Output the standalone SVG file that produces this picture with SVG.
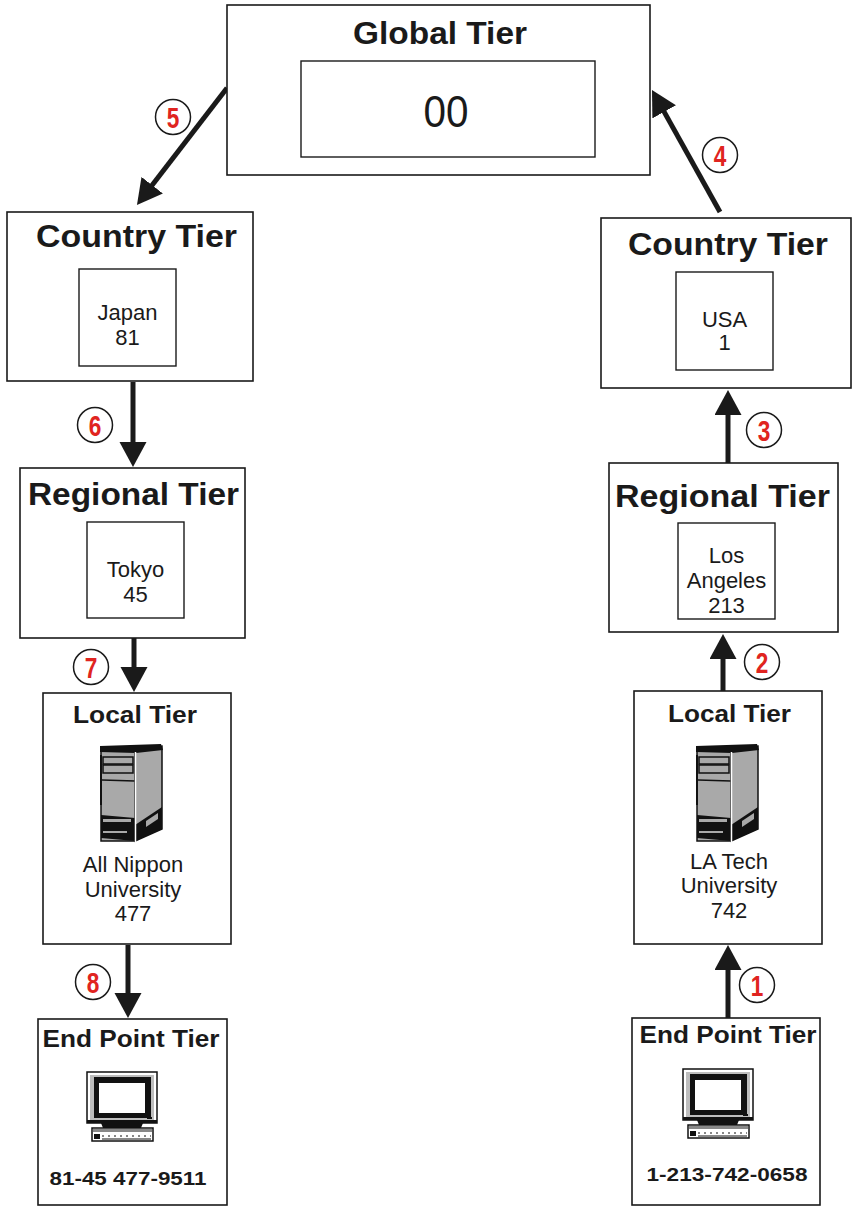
<svg xmlns="http://www.w3.org/2000/svg" width="852" height="1207" viewBox="0 0 852 1207">
  <style>
    .box { fill: #ffffff; stroke: #1a1a1a; stroke-width: 1.6; }
    .inner { fill: #ffffff; stroke: #1a1a1a; stroke-width: 1.4; }
    .title { font-family: "Liberation Sans", Arial, sans-serif; font-weight: bold; fill: #1a1a1a; text-anchor: middle; }
    .big { font-size: 31px; }
    .mid { font-size: 23px; }
    .body { font-family: "Liberation Sans", Arial, sans-serif; font-size: 22px; fill: #1a1a1a; text-anchor: middle; }
    .code { font-family: "Liberation Sans", Arial, sans-serif; font-size: 44px; fill: #1a1a1a; text-anchor: middle; }
    .phone { font-family: "Liberation Sans", Arial, sans-serif; font-weight: bold; font-size: 19px; fill: #1a1a1a; text-anchor: middle; }
    .conn { stroke: #1a1a1a; stroke-width: 5; fill: none; marker-end: url(#head); }
    .step circle { fill: #ffffff; stroke: #1a1a1a; stroke-width: 1.5; }
    .step text { font-family: "Liberation Sans", Arial, sans-serif; font-weight: bold; font-size: 29px; fill: #e02420; text-anchor: middle; }
  </style>
  <defs>
    <marker id="head" markerUnits="userSpaceOnUse" markerWidth="26" markerHeight="28" refX="10" refY="13.5" orient="auto">
      <path d="M0,0 L25,13.5 L0,27 Z" fill="#1a1a1a"/>
    </marker>
    <!-- tower server -->
    <g id="server">
      <polygon points="35,5 62,1 62,84 35,96" fill="#a9a9a9" stroke="#111" stroke-width="1.5"/>
      <rect x="1" y="4" width="34" height="92" fill="#a9a9a9" stroke="#111" stroke-width="1.5"/>
      <polygon points="0,1 61,-1 63,5 36,8 0,7" fill="#111"/>
      <rect x="3" y="12" width="30" height="7" fill="#a9a9a9" stroke="#111" stroke-width="1.5"/>
      <rect x="3" y="20" width="30" height="8" fill="#a9a9a9" stroke="#111" stroke-width="1.5"/>
      <line x1="2" y1="35" x2="35" y2="36" stroke="#111" stroke-width="1.5"/>
      <polygon points="1,70 35,73 35,96 1,93" fill="#111"/>
      <polygon points="35,80 62,62 62,84 35,96" fill="#111"/>
      <polygon points="46,76 58,68 58,74 46,82" fill="#a9a9a9"/>
      <rect x="3" y="74" width="28" height="3" fill="#a9a9a9"/>
      <rect x="3" y="86" width="24" height="2" fill="#a9a9a9"/>
      <line x1="35.5" y1="7" x2="35.5" y2="97" stroke="#ffffff" stroke-width="1.5"/>
      <line x1="1" y1="10" x2="1" y2="60" stroke="#111" stroke-width="2"/>
    </g>
    <!-- desktop computer -->
    <g id="pc">
      <rect x="0" y="0" width="70" height="51" fill="#ffffff" stroke="#111" stroke-width="1.5"/>
      <rect x="3" y="3" width="64" height="45" fill="#bdbdbd"/>
      <rect x="7" y="5" width="57" height="41" fill="#111"/>
      <rect x="12" y="11" width="46" height="30" fill="#ffffff"/>
      <rect x="60" y="45" width="5" height="2" fill="#111"/>
      <rect x="0" y="48" width="70" height="3" fill="#111"/>
      <polygon points="14,51 56,51 54,56 16,56" fill="#111"/>
      <rect x="5" y="56" width="61" height="13" fill="#ffffff" stroke="#111" stroke-width="1.5"/>
      <rect x="6" y="57" width="59" height="3" fill="#888"/>
      <rect x="7" y="62" width="6" height="5" fill="#111"/>
      <line x1="15" y1="64" x2="64" y2="64" stroke="#111" stroke-width="1.2" stroke-dasharray="2,4"/>
      <line x1="15" y1="67" x2="64" y2="67" stroke="#111" stroke-width="1"/>
    </g>
  </defs>

  <rect width="852" height="1207" fill="#ffffff"/>

  <!-- connectors -->
  <g id="connectors">
    <line class="conn" x1="728" y1="1018" x2="728" y2="960"/>
    <line class="conn" x1="723" y1="691" x2="723" y2="649"/>
    <line class="conn" x1="728" y1="463" x2="728" y2="405"/>
    <line class="conn" x1="720" y1="212" x2="659.3" y2="103.1"/>
    <line class="conn" x1="227" y1="88" x2="146.1" y2="193.1"/>
    <line class="conn" x1="133" y1="382" x2="133" y2="452"/>
    <line class="conn" x1="134" y1="638" x2="134" y2="677"/>
    <line class="conn" x1="128" y1="945" x2="128" y2="1003"/>
  </g>

  <!-- step markers -->
  <g id="steps">
    <g class="step"><circle cx="757" cy="985" r="17.5"/><text transform="translate(757,995.5) scale(0.78,1)">1</text></g>
    <g class="step"><circle cx="762" cy="662" r="17.5"/><text transform="translate(762,672.5) scale(0.78,1)">2</text></g>
    <g class="step"><circle cx="764" cy="430" r="17.5"/><text transform="translate(764,440.5) scale(0.78,1)">3</text></g>
    <g class="step"><circle cx="720" cy="155" r="17.5"/><text transform="translate(720,165.5) scale(0.78,1)">4</text></g>
    <g class="step"><circle cx="173" cy="117" r="17.5"/><text transform="translate(173,127.5) scale(0.78,1)">5</text></g>
    <g class="step"><circle cx="95" cy="425" r="17.5"/><text transform="translate(95,435.5) scale(0.78,1)">6</text></g>
    <g class="step"><circle cx="91" cy="667" r="17.5"/><text transform="translate(91,677.5) scale(0.78,1)">7</text></g>
    <g class="step"><circle cx="93" cy="982" r="17.5"/><text transform="translate(93,992.5) scale(0.78,1)">8</text></g>
  </g>

  <!-- global tier -->
  <g id="global-tier">
    <rect class="box" x="227" y="5" width="423" height="170"/>
    <text class="title big" x="440" y="44" textLength="174" lengthAdjust="spacingAndGlyphs">Global Tier</text>
    <rect class="inner" x="301" y="61" width="294" height="96"/>
    <text class="code" x="446" y="127" textLength="45" lengthAdjust="spacingAndGlyphs">00</text>
  </g>

  <!-- Japan side -->
  <g id="country-japan">
    <rect class="box" x="7" y="212" width="246" height="169"/>
    <text class="title big" x="136.5" y="247" textLength="201" lengthAdjust="spacingAndGlyphs">Country Tier</text>
    <rect class="inner" x="79" y="269" width="97" height="97"/>
    <text class="body" x="127.5" y="320">Japan</text>
    <text class="body" x="127.5" y="345">81</text>
  </g>
  <g id="regional-tokyo">
    <rect class="box" x="20" y="468" width="225" height="170"/>
    <text class="title big" x="133.5" y="505" textLength="211" lengthAdjust="spacingAndGlyphs">Regional Tier</text>
    <rect class="inner" x="87" y="522" width="97" height="96"/>
    <text class="body" x="135.5" y="577">Tokyo</text>
    <text class="body" x="135.5" y="602">45</text>
  </g>
  <g id="local-nippon">
    <rect class="box" x="43" y="693" width="188" height="251"/>
    <text class="title mid" x="135" y="723" textLength="124" lengthAdjust="spacingAndGlyphs">Local Tier</text>
    <use href="#server" x="100" y="745"/>
    <text class="body" x="133" y="872">All Nippon</text>
    <text class="body" x="133" y="897">University</text>
    <text class="body" x="133" y="921">477</text>
  </g>
  <g id="endpoint-japan">
    <rect class="box" x="38" y="1019" width="189" height="186"/>
    <text class="title mid" x="131" y="1047" textLength="177" lengthAdjust="spacingAndGlyphs">End Point Tier</text>
    <use href="#pc" x="87" y="1072"/>
    <text class="phone" x="128" y="1185" textLength="157" lengthAdjust="spacingAndGlyphs">81-45 477-9511</text>
  </g>

  <!-- USA side -->
  <g id="country-usa">
    <rect class="box" x="601" y="218" width="250" height="170"/>
    <text class="title big" x="728" y="255" textLength="200" lengthAdjust="spacingAndGlyphs">Country Tier</text>
    <rect class="inner" x="676" y="272" width="97" height="98"/>
    <text class="body" x="724.5" y="327">USA</text>
    <text class="body" x="724.5" y="350">1</text>
  </g>
  <g id="regional-la">
    <rect class="box" x="609" y="463" width="229" height="169"/>
    <text class="title big" x="722.5" y="507" textLength="215" lengthAdjust="spacingAndGlyphs">Regional Tier</text>
    <rect class="inner" x="678" y="523" width="97" height="96"/>
    <text class="body" x="726.5" y="563">Los</text>
    <text class="body" x="726.5" y="588">Angeles</text>
    <text class="body" x="726.5" y="613">213</text>
  </g>
  <g id="local-latech">
    <rect class="box" x="634" y="691" width="188" height="253"/>
    <text class="title mid" x="729.5" y="722" textLength="123" lengthAdjust="spacingAndGlyphs">Local Tier</text>
    <use href="#server" x="696" y="745"/>
    <text class="body" x="729" y="869">LA Tech</text>
    <text class="body" x="729" y="893">University</text>
    <text class="body" x="729" y="918">742</text>
  </g>
  <g id="endpoint-usa">
    <rect class="box" x="632" y="1018" width="188" height="187"/>
    <text class="title mid" x="728" y="1043" textLength="177" lengthAdjust="spacingAndGlyphs">End Point Tier</text>
    <use href="#pc" x="683" y="1069"/>
    <text class="phone" x="727" y="1181" textLength="161" lengthAdjust="spacingAndGlyphs">1-213-742-0658</text>
  </g>
</svg>
